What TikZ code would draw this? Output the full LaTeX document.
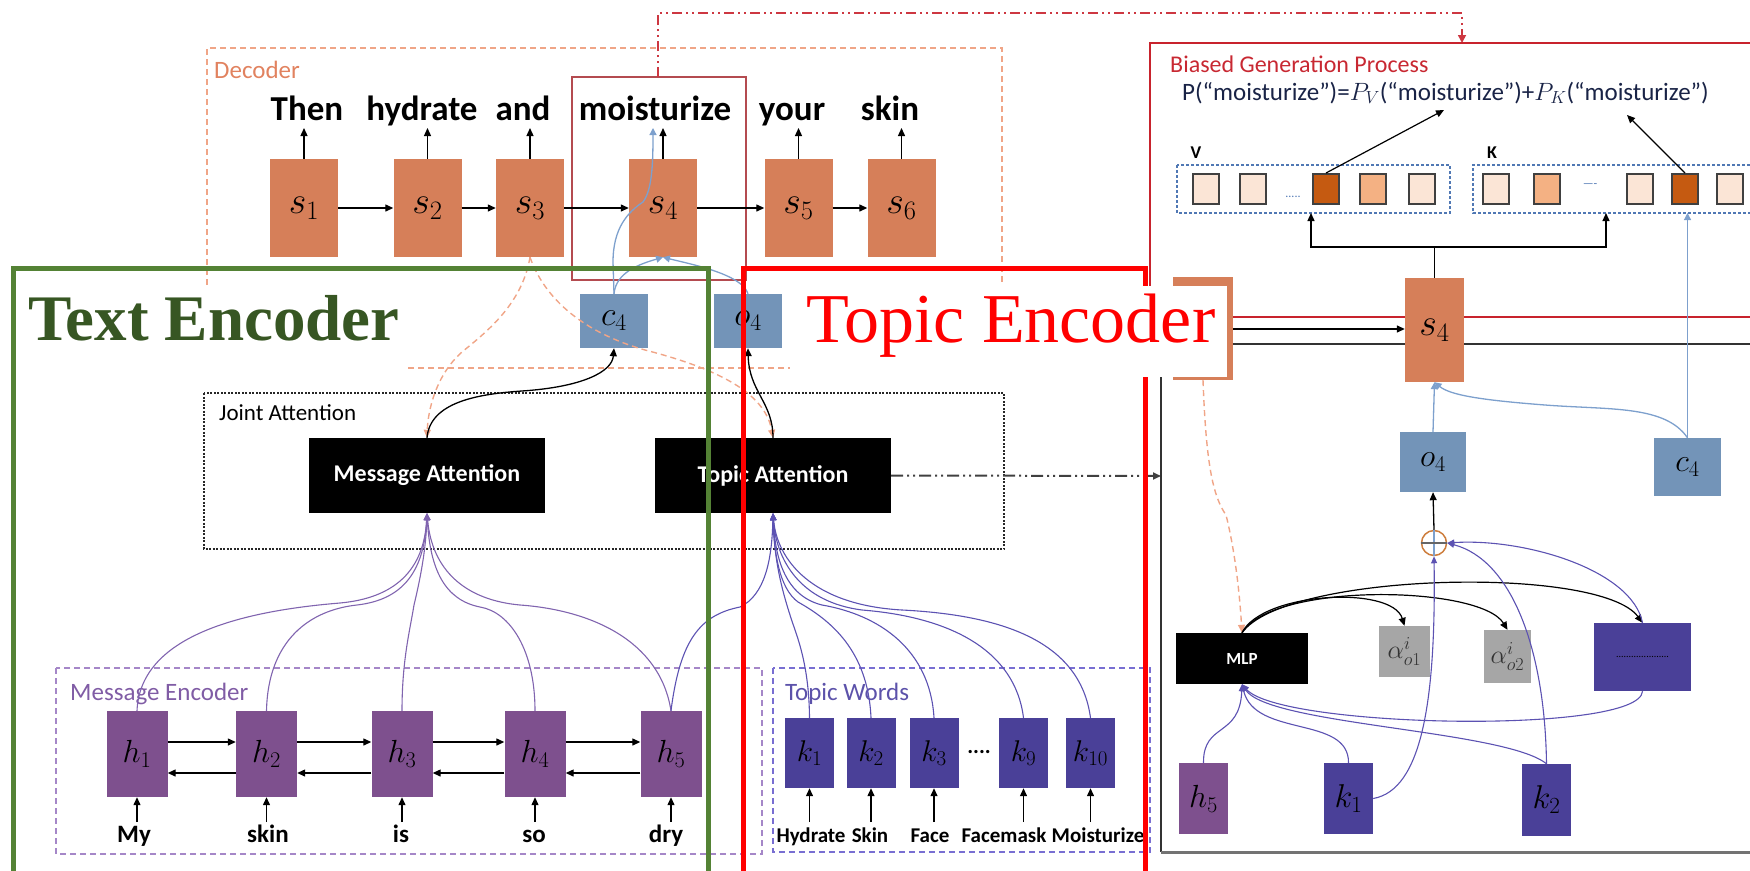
\RequirePackage{fix-cm}
\documentclass[tikz,border=0pt]{standalone}
\usepackage{fontspec}
\setmainfont{Carlito}
\newfontfamily\serifbig{Liberation Serif}
\usetikzlibrary{arrows.meta}
\newcommand{\myfs}[1]{\fontsize{#1}{#1}\selectfont}
\definecolor{sorange}{RGB}{214,127,89}
\definecolor{decdash}{RGB}{240,165,135}
\definecolor{dectext}{RGB}{225,130,95}
\definecolor{cblue}{RGB}{115,148,184}
\definecolor{lblue}{RGB}{125,160,205}
\definecolor{hpurple}{RGB}{126,80,142}
\definecolor{kindigo}{RGB}{74,64,152}
\definecolor{medash}{RGB}{165,135,200}
\definecolor{metext}{RGB}{128,92,165}
\definecolor{twdash}{RGB}{120,110,210}
\definecolor{twtext}{RGB}{92,82,170}
\definecolor{hcurve}{RGB}{128,100,175}
\definecolor{kcurve}{RGB}{92,82,178}
\definecolor{tegreen}{RGB}{84,130,53}
\definecolor{tetext}{RGB}{55,86,35}
\definecolor{mred}{RGB}{180,75,80}
\definecolor{ddred}{RGB}{205,55,65}
\definecolor{bred}{RGB}{200,35,45}
\definecolor{bgtext}{RGB}{200,40,50}
\definecolor{ftext}{RGB}{25,35,70}
\definecolor{agrey}{RGB}{166,166,166}
\definecolor{plight}{RGB}{251,229,214}
\definecolor{pmid}{RGB}{244,177,131}
\definecolor{pdark}{RGB}{197,90,17}
\definecolor{vkdash}{RGB}{80,120,180}
\definecolor{plusc}{RGB}{205,125,60}
\begin{document}
\begin{tikzpicture}[x=1pt,y=-1pt,
  arr/.style={-{Triangle[length=8pt,width=7pt]}, line width=1.3pt},
  barr/.style={-{Triangle[length=7pt,width=7pt]}, line width=1.3pt, draw=lblue},
  harr/.style={-{Triangle[length=7pt,width=6pt]}, line width=1.1pt, draw=hcurve},
  karr/.style={-{Triangle[length=7pt,width=6pt]}, line width=1.1pt, draw=kcurve},
  odash/.style={draw=decdash, line width=1.4pt, dash pattern=on 6pt off 4pt},
  sbox/.style={fill=sorange, minimum width=68pt, minimum height=98pt, inner sep=0pt, font=\myfs{38}},
  hbox/.style={fill=hpurple, minimum width=61pt, minimum height=86pt, inner sep=0pt, font=\myfs{32}},
  kbox/.style={fill=kindigo, minimum width=49pt, minimum height=70pt, inner sep=0pt, font=\myfs{30}},
  cbox/.style={fill=cblue, minimum width=68pt, minimum height=54pt, inner sep=0pt, font=\myfs{34}},
  attbox/.style={fill=black, text=white, minimum width=236pt, minimum height=75pt, inner sep=0pt, font=\myfs{24}\bfseries},
  topword/.style={font=\myfs{35}\bfseries, inner sep=0pt, anchor=base},
  inword/.style={font=\myfs{25}\bfseries, inner sep=0pt, anchor=base},
  tword/.style={font=\myfs{21}\bfseries, inner sep=0pt, anchor=base},
  lbl/.style={font=\myfs{25}, inner sep=0pt, anchor=base west},
  cell/.style={draw=black!75, line width=2pt, minimum width=26pt, minimum height=30pt, inner sep=0pt},
  abox/.style={fill=agrey, minimum width=51pt, minimum height=51pt, inner sep=0pt, font=\myfs{26}, text=black!80}
]
\useasboundingbox (0,0) rectangle (1750,870);

% ---------------- Decoder ----------------
\draw[odash] (207,285) -- (207,48) -- (1002,48) -- (1002,283);
\draw[odash] (408,368) -- (801,368);
\node[lbl, text=dectext] (declbl) at (214,78) {Decoder};
\draw[mred, line width=1.6pt] (572,77) rectangle (746,280);
\coordinate (ddstart) at (658,77);
\coordinate (ddend) at (1462,43);
\draw[ddred, line width=1.6pt, dash pattern=on 10pt off 4pt on 2pt off 4pt on 2pt off 4pt, -{Triangle[length=8pt,width=8pt]}]
  (ddstart) -- (658,13) -- (1462,13) -- (ddend);

\node[sbox] (s1) at (304,208) {$s_1$};
\node[sbox] (s2) at (427.5,208) {$s_2$};
\node[sbox] (s3) at (530,208) {$s_3$};
\node[sbox] (s4) at (663,208) {$s_4$};
\node[sbox] (s5) at (798.5,208) {$s_5$};
\node[sbox] (s6) at (901.5,208) {$s_6$};

\node[topword] (w1) at (307,120) {Then};
\node[topword] (w2) at (422,120) {hydrate};
\node[topword] (w3) at (523,120) {and};
\node[topword] (w4) at (655,120) {moisturize};
\node[topword] (w5) at (792,120) {your};
\node[topword] (w6) at (890,120) {skin};
\coordinate (wtop) at (0,128);
\foreach \n in {s1,s2,s3,s4,s5,s6} \draw[arr] (\n.north) -- (\n.north |- wtop);
\draw[arr] (s1.east) -- (s2.west);
\draw[arr] (s2.east) -- (s3.west);
\draw[arr] (s3.east) -- (s4.west);
\draw[arr] (s4.east) -- (s5.west);
\draw[arr] (s5.east) -- (s6.west);

\node[cbox] (c4) at (614,321) {$c_4$};
\node[cbox] (o4) at (748,321) {$o_4$};
\coordinate (mtip) at (653,128);
\draw[barr] (c4.north) -- (613,262) .. controls (613,228) and (628,212) .. (643,202) .. controls (652,190) and (653,165) .. (mtip);
\draw[barr] (c4.north) .. controls (616,272) and (640,264) .. (s4.south);
\draw[barr] (o4.north) .. controls (742,274) and (690,264) .. (s4.south);

% ---------------- Joint Attention ----------------
\draw[black!85, line width=2.5pt, dash pattern=on 2pt off 1.5pt] (204,393) rectangle (1004,549);
\node[font=\myfs{23}, inner sep=0pt, anchor=base west] (jalbl) at (219,420) {Joint Attention};
\node[attbox] (MA) at (427,475.5) {Message Attention};
\node[attbox] (TA) at (773,475.5) {Topic Attention};

\draw[odash, -{Triangle[length=8pt,width=7pt]}] (s3.south) .. controls (522,305) and (485,333) .. (462,352) .. controls (436,375) and (428,410) .. (MA.north);
\draw[odash, -{Triangle[length=8pt,width=7pt]}] (s3.south) .. controls (545,300) and (585,333) .. (645,350) .. controls (715,368) and (765,392) .. (TA.north);
\draw[arr] (MA.north) .. controls (430,402) and (478,394) .. (522,391) .. controls (582,387) and (612,372) .. (c4.south);
\draw[arr] (TA.north) .. controls (773,402) and (749,392) .. (o4.south);

\coordinate (panelL) at (1161,476);
\draw[black!75, line width=2pt, dash pattern=on 12pt off 4pt on 2pt off 4pt on 2pt off 4pt, -{Triangle[length=8pt,width=7pt]}] (TA.east) -- (panelL);

% ---------------- Message encoder ----------------
\draw[draw=medash, line width=2pt, dash pattern=on 6pt off 4pt] (56,668) rectangle (762,854);
\node[lbl, text=metext] (melbl) at (70,700) {Message Encoder};
\node[hbox] (h1) at (137,754) {$h_1$};
\node[hbox] (h2) at (266.5,754) {$h_2$};
\node[hbox] (h3) at (402,754) {$h_3$};
\node[hbox] (h4) at (535,754) {$h_4$};
\node[hbox] (h5) at (671,754) {$h_5$};
\foreach \a/\b in {h1/h2,h2/h3,h3/h4,h4/h5} {
  \draw[arr] ([yshift=12pt]\a.east) -- ([yshift=12pt]\b.west);
  \draw[arr] ([yshift=-19pt]\b.west) -- ([yshift=-19pt]\a.east);
}
\node[inword] (m1) at (134,842) {My};
\node[inword] (m2) at (268,842) {skin};
\node[inword] (m3) at (401,842) {is};
\node[inword] (m4) at (534,842) {so};
\node[inword] (m5) at (666,842) {dry};
\foreach \i in {1,...,5} \draw[arr] (h\i.south |- 0,822) -- (h\i.south);

\draw[harr] (h1.north) .. controls (140,640) and (230,612) .. (340,603) .. controls (395,598) and (424,570) .. (MA.south);
\draw[harr] (h2.north) .. controls (268,640) and (310,610) .. (357,605) .. controls (400,600) and (424,575) .. (MA.south);
\draw[harr] (h3.north) .. controls (402,660) and (410,630) .. (414,605) .. controls (420,580) and (426,550) .. (MA.south);
\draw[harr] (h4.north) .. controls (535,650) and (510,612) .. (480,607) .. controls (445,600) and (430,570) .. (MA.south);
\draw[harr] (h5.north) .. controls (660,640) and (590,610) .. (520,605) .. controls (465,600) and (432,570) .. (MA.south);
\draw[karr] (h5.north) .. controls (680,640) and (700,615) .. (740,607) .. controls (765,595) and (772,560) .. (TA.south);

% ---------------- Topic words ----------------
\draw[draw=twdash, line width=2pt, dash pattern=on 6pt off 4pt] (773,668) rectangle (1150,852);
\node[lbl, text=twtext] (twlbl) at (785,700) {Topic Words};
\node[kbox] (k1) at (809.5,753) {$k_1$};
\node[kbox] (k2) at (871,753) {$k_2$};
\node[kbox] (k3) at (934,753) {$k_3$};
\node[kbox] (k9) at (1023.5,753) {$k_9$};
\node[kbox] (k10) at (1090.5,753) {$k_{10}$};
\node[font=\myfs{22}\bfseries, inner sep=0pt] (kdots) at (979,752) {....};
\node[tword] (t1) at (811,842) {Hydrate};
\node[tword] (t2) at (870,842) {Skin};
\node[tword] (t3) at (930,842) {Face};
\node[tword] (t9) at (1004,842) {Facemask};
\node[tword] (t10) at (1098,842) {Moisturize};
\foreach \i in {1,2,3,9,10} \draw[arr] (k\i.south |- 0,822) -- (k\i.south);

\draw[karr] (k1.north) .. controls (809,660) and (795,632) .. (790,615) .. controls (782,590) and (774,560) .. (TA.south);
\draw[karr] (k2.north) .. controls (868,650) and (830,620) .. (798,602) .. controls (779,588) and (774,552) .. (TA.south);
\draw[karr] (k3.north) .. controls (930,650) and (880,615) .. (822,605) .. controls (786,596) and (775,560) .. (TA.south);
\draw[karr] (k9.north) .. controls (1015,650) and (950,617) .. (862,610) .. controls (800,602) and (776,560) .. (TA.south);
\draw[karr] (k10.north) .. controls (1080,640) and (1000,615) .. (902,610) .. controls (812,605) and (777,560) .. (TA.south);

% ---------------- Right panel ----------------
\draw[bred, line width=2pt] (1760,317) -- (1150,317) -- (1150,43) -- (1760,43);
\draw[black!80, line width=2pt] (1760,344) -- (1161,344) -- (1161,852);
\draw[black!55, line width=3pt] (1161,852) -- (1760,852);
\node[font=\myfs{24}, text=bgtext, inner sep=0pt, anchor=base west] (bglbl) at (1170,72) {Biased Generation Process};
\node[font=\myfs{25}, text=ftext, inner sep=0pt, anchor=base west] (formula) at (1182,100) {P(“moisturize”)=$P_V$(“moisturize”)+$P_K$(“moisturize”)};
\node[font=\myfs{18}\bfseries, inner sep=0pt, anchor=base] (vlbl) at (1196,158) {V};
\node[font=\myfs{18}\bfseries, inner sep=0pt, anchor=base] (klbl) at (1492,158) {K};
\draw[vkdash, line width=1.5pt, dash pattern=on 3pt off 2pt] (1177,165) rectangle (1450,213);
\draw[vkdash, line width=1.5pt, dash pattern=on 3pt off 2pt] (1760,165) -- (1473,165) -- (1473,213) -- (1760,213);
\node[cell, fill=plight] (vc1) at (1205.5,189) {};
\node[cell, fill=plight] (vc2) at (1252.5,189) {};
\node[cell, fill=pdark] (vc3) at (1326,189) {};
\node[cell, fill=pmid] (vc4) at (1373,189) {};
\node[cell, fill=plight] (vc5) at (1421.5,189) {};
\node[font=\myfs{12}, text=vkdash, inner sep=0pt] (vdots) at (1293,197) {.....};
\node[cell, fill=plight] (kc1) at (1495.5,189) {};
\node[cell, fill=pmid] (kc2) at (1547,189) {};
\node[font=\myfs{12}, text=vkdash, inner sep=0pt] (kdash) at (1590,186) {----};
\node[cell, fill=plight] (kc3) at (1640,189) {};
\node[cell, fill=pdark] (kc4) at (1685,189) {};
\node[cell, fill=plight] (kc5) at (1730,189) {};
\coordinate (pv) at (1444,110);
\coordinate (pk) at (1627,115);
\draw[arr, line width=1.2pt] (vc3.north) -- (pv);
\draw[arr, line width=1.2pt] (kc4.north) -- (pk);

\node[sbox, minimum width=60pt, minimum height=103pt] (sL) at (1203,328.5) {};
\node[sbox, minimum width=59pt, minimum height=104pt] (s4R) at (1434.5,330) {$s_4$};
\draw[arr] (sL.east |- 0,329) -- (s4R.west |- 0,329);
\coordinate (br) at (1434.5,247);
\coordinate (vin) at (1311,213);
\coordinate (kin) at (1606,213);
\draw[line width=1.3pt] (s4R.north) -- (br);
\draw[arr] (br) -| (vin);
\draw[arr] (br) -| (kin);

\node[cbox, minimum width=66pt, minimum height=60pt, font=\myfs{32}] (o4R) at (1433,462) {$o_4$};
\node[cbox, minimum width=67pt, minimum height=58pt, font=\myfs{32}] (c4R) at (1687.5,467) {$c_4$};
\draw[barr] (o4R.north) -- (s4R.south);
\draw[barr] (c4R.north) .. controls (1665,405) and (1610,410) .. (1545,405) .. controls (1480,400) and (1450,395) .. (s4R.south);
\draw[barr] (c4R.north) -- (c4R.north |- kin);

\node[circle, draw=plusc, line width=1.5pt, minimum size=25pt, inner sep=0pt] (plus) at (1434,543) {};
\draw[lblue, line width=1.2pt] (plus.north) -- (plus.south);
\draw[black!60, line width=1.2pt] (plus.west) -- (plus.east);
\draw[arr] (plus.north) -- (o4R.south);

\node[fill=black, text=white, minimum width=132pt, minimum height=51pt, inner sep=0pt, font=\myfs{17}\bfseries] (MLP) at (1242,658.5) {MLP};
\node[abox] (a1) at (1404.5,651.5) {$\alpha^{i}_{o1}$};
\node[abox, minimum width=47pt, minimum height=53pt] (a2) at (1507.5,656.5) {$\alpha^{i}_{o2}$};
\node[fill=kindigo, minimum width=97pt, minimum height=68pt, inner sep=0pt, font=\myfs{10}] (dbox) at (1642.5,657) {.....................};
\node[hbox, minimum width=49pt, minimum height=71pt] (h5R) at (1203.5,798.5) {$h_5$};
\node[kbox, minimum width=49pt, minimum height=71pt, font=\myfs{33}] (k1R) at (1348.5,798.5) {$k_1$};
\node[kbox, minimum width=49pt, minimum height=72pt, font=\myfs{33}] (k2R) at (1546.5,800) {$k_2$};

\draw[odash, -{Triangle[length=8pt,width=7pt]}] (sL.south) .. controls (1206,460) and (1212,495) .. (1226,515) .. controls (1236,555) and (1240,600) .. (MLP.north);
\draw[arr, line width=1.2pt] (MLP.north) .. controls (1262,592) and (1392,585) .. (a1.north);
\draw[arr, line width=1.2pt] (MLP.north) .. controls (1272,582) and (1480,585) .. (a2.north);
\draw[arr, line width=1.2pt] (MLP.north) .. controls (1285,572) and (1600,565) .. (dbox.north);
\draw[karr] (h5R.north) .. controls (1203,722) and (1240,738) .. (MLP.south);
\draw[karr] (k1R.north) .. controls (1349,715) and (1255,738) .. (MLP.south);
\draw[karr] (k2R.north) .. controls (1505,730) and (1268,725) .. (MLP.south);
\draw[karr] (dbox.south) .. controls (1640,735) and (1280,728) .. (MLP.south);
\draw[karr] (k1R.east) .. controls (1422,790) and (1436,700) .. (plus.south);
\draw[karr] (k2R.north) .. controls (1545,650) and (1512,560) .. (plus.east);
\draw[karr] (dbox.north) .. controls (1632,570) and (1525,538) .. (plus.east);

% ---------------- Overlay frames ----------------
\draw[tegreen, line width=5pt] (13,880) -- (13,268) -- (708,268) -- (708,880);
\node[font=\serifbig\bfseries\myfs{65}, text=tetext, inner sep=0pt, anchor=base west] (telbl) at (28,340) {Text Encoder};
\draw[red, line width=5pt] (743,880) -- (743,268) -- (1145,268) -- (1145,880);
\node[fill=white, minimum width=437pt, minimum height=91pt, inner sep=0pt] (toplblbg) at (1008.5,331.5) {};
\node[font=\serifbig\myfs{70}, text=red, inner sep=0pt, anchor=base west] (toplbl) at (806,342) {Topic Encoder};
\end{tikzpicture}
\end{document}
